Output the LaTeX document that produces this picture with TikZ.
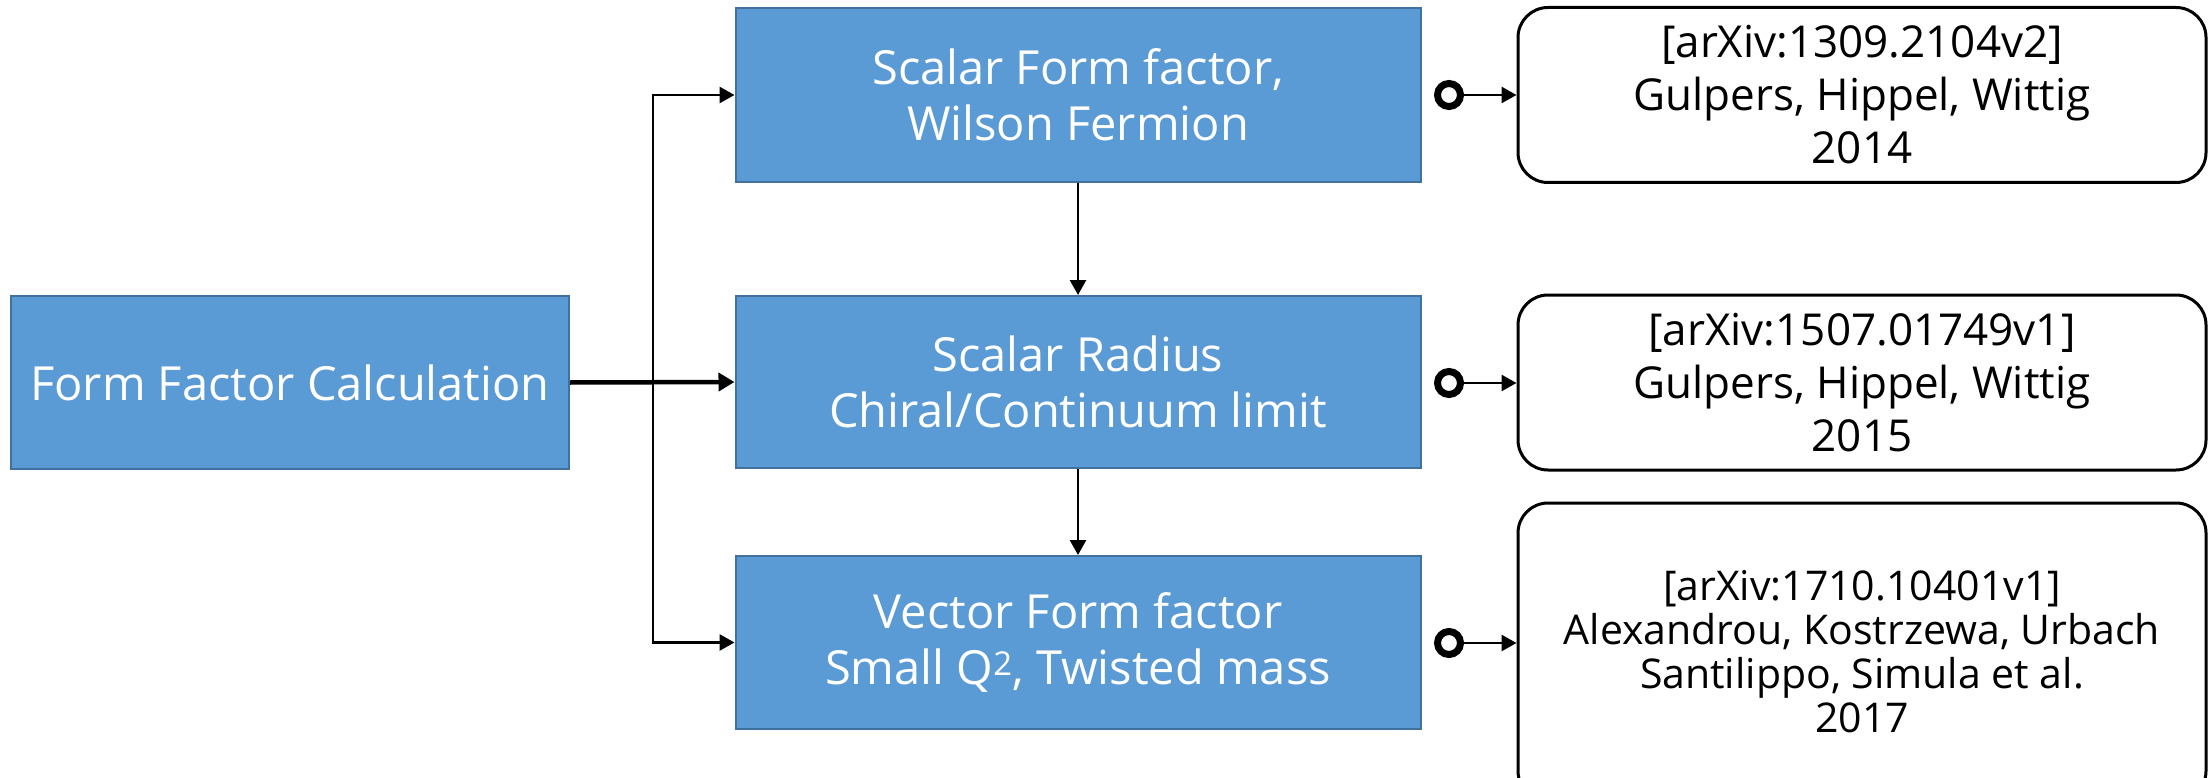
\documentclass[tikz,border=0pt]{standalone}
\usepackage{fontspec}
\setmainfont{Open Sans}
\usetikzlibrary{arrows.meta,calc}
\definecolor{boxfill}{HTML}{5B9BD5}
\definecolor{boxline}{HTML}{41719C}
\tikzset{
  bluebox/.style={draw=boxline, fill=boxfill, line width=2pt, text=white,
    align=center, inner sep=0pt, minimum width=685pt, minimum height=174pt,
    font=\fontsize{47}{56}\selectfont},
  refbox/.style={draw=black, fill=white, line width=3pt, rounded corners=30pt, text=black,
    align=center, inner sep=0pt, minimum width=688pt, minimum height=175pt,
    font=\fontsize{44}{53}\selectfont},
  ring/.style={circle, draw=black, line width=7pt, minimum size=23pt, inner sep=0pt, outer sep=3.5pt},
  arr/.style={line width=2.7pt, -{Triangle[length=15pt,width=16pt]}},
  bigarr/.style={line width=4.5pt, -{Triangle[length=16pt,width=18pt]}}
}
\begin{document}
\begin{tikzpicture}[x=1pt,y=-1pt]
\clip (0,0) rectangle (2210,778);
\fill[white] (0,0) rectangle (2210,778);

\node[bluebox, minimum width=558pt, minimum height=173pt] (L) at (290,382.5) {Form Factor Calculation};
\node[bluebox] (A) at (1078,95) {Scalar Form factor,\\Wilson Fermion};
\node[bluebox, minimum height=172pt] (B) at (1078,382) {Scalar Radius\\Chiral/Continuum limit};
\node[bluebox, minimum height=173pt] (C) at (1078,642.5) {Vector Form factor\\Small Q\textsuperscript{2}, Twisted mass};

\node[refbox] (R1) at (1862,95) {[arXiv:1309.2104v2]\\Gulpers, Hippel, Wittig\\2014};
\node[refbox] (R2) at (1862,382.5) {[arXiv:1507.01749v1]\\Gulpers, Hippel, Wittig\\2015};
\node[refbox, minimum height=298pt, font=\fontsize{41}{44}\selectfont] (R3) at (1862,652) {[arXiv:1710.10401v1]\\Alexandrou, Kostrzewa, Urbach\\Santilippo, Simula et al.\\2017};

\node[ring] (c1) at (1449,95) {};
\node[ring] (c2) at (1449,383) {};
\node[ring] (c3) at (1449,643) {};

\coordinate (J) at (653,382.5);
\draw[bigarr] (L.east) -- (B.west);
\draw[arr] (J) |- (A.west);
\draw[arr] (J) |- (C.west);
\draw[arr] (A.south) -- (B.north);
\draw[arr] (B.south) -- (C.north);

\draw[arr] (c1.east) -- (c1.east -| R1.west);
\draw[arr] (c2.east) -- (c2.east -| R2.west);
\draw[arr] (c3.east) -- (c3.east -| R3.west);
\end{tikzpicture}
\end{document}
